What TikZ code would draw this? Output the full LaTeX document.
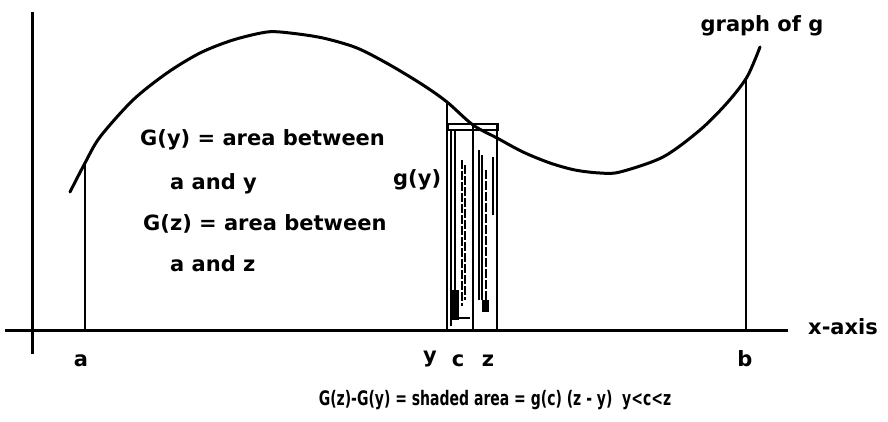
\documentclass[tikz,border=0pt]{standalone}
\usepackage{fontspec}
\setmainfont{DejaVu Sans}
\usetikzlibrary{positioning,calc}

\tikzset{
  lbl/.style={font=\bfseries\fontsize{21}{24}\selectfont,inner sep=0pt},
  tick/.style={lbl,anchor=base},
  ordinate/.style={line width=1.3pt},
  shade/.style={line width=1.1pt}
}

\begin{document}
\begin{tikzpicture}[x=1pt,y=-1pt]
  \useasboundingbox (0,0) rectangle (888,421);
  % axes
  \draw[line width=3pt] (5,330)--(788,330);
  \draw[line width=3pt] (32,12)--(32,354);
  % graph of g
  \draw[line width=3pt,line cap=round] plot[smooth,tension=0.5] coordinates
    {(70,192)(85,163)(100,137)(133,100)(167,73)(200,53)(233,40)(267,32)
     (290,33)(323,38)(357,48)(390,65)(423,85)(447,102)(473,125)(497,138)
     (523,152)(550,163)(575,170)(600,173)(620,172)(663,157)(700,130)
     (727,103)(747,77)(760,47)};
  % feet of the ordinates
  \coordinate (a) at (85,330);   \coordinate (ga) at (85,163);
  \coordinate (b) at (746,330);  \coordinate (gb) at (746,77);
  \coordinate (y) at (447,330);  \coordinate (gy) at (447,102);
  \coordinate (z) at (497,330);  \coordinate (gz) at (497,125);
  \coordinate (c) at (473,330);  \coordinate (gc) at (473,124);
  \draw[ordinate] (a)--(ga);
  \draw[ordinate] (b)--(gb);
  \draw[ordinate] (y)--(gy);
  \draw[ordinate] (z)--(gz);
  \draw[line width=2.6pt] (c)--(gc);
  % shaded slab
  \draw[line width=2pt] (448,124) rectangle (498,130);
  \draw[shade] (451,130)--(451,326);
  \draw[shade] (455,131)--(455,318)--(470,318);
  \draw[shade,dash pattern=on 9pt off 2pt] (462,160)--(462,306);
  \draw[shade,dash pattern=on 9pt off 2pt] (465,165)--(465,300);
  \draw[shade] (479,150)--(479,300);
  \draw[shade] (482,155)--(482,300);
  \draw[shade,dash pattern=on 9pt off 2pt] (486,170)--(486,305);
  \draw[shade] (493,157)--(493,215);
  \fill (452,290) rectangle (459,320);
  \fill (482,300) rectangle (489,312);
  % labels
  \node[lbl,anchor=base] (graphg) at (762,31) {graph of g};
  \node[lbl,anchor=base west] (gylab) at (140,145) {G(y) = area between};
  \node[lbl,anchor=base west] (aylab) at (170,189) {a and y};
  \node[lbl,anchor=base west] (gofy) at (393,185) {g(y)};
  \node[lbl,anchor=base west] (gzlab) at (143,230) {G(z) = area between};
  \node[lbl,anchor=base west] (azlab) at (170,271) {a and z};
  \node[lbl,anchor=west] (xaxis) at (808,327) {x-axis};
  \node[tick] (alab) at (81,366) {a};
  \node[tick] (ylab) at (430,362) {y};
  \node[tick] (clab) at (458,366) {c};
  \node[tick] (zlab) at (488,366) {z};
  \node[tick] (blab) at (745,366) {b};
  \node[inner sep=0pt,anchor=base,font=\bfseries\fontsize{20}{22}\selectfont] (formula) at (495,405)
    {\scalebox{0.7}[1]{G(z)-G(y) = shaded area = g(c) (z - y)\ \ y<c<z}};
\end{tikzpicture}
\end{document}
